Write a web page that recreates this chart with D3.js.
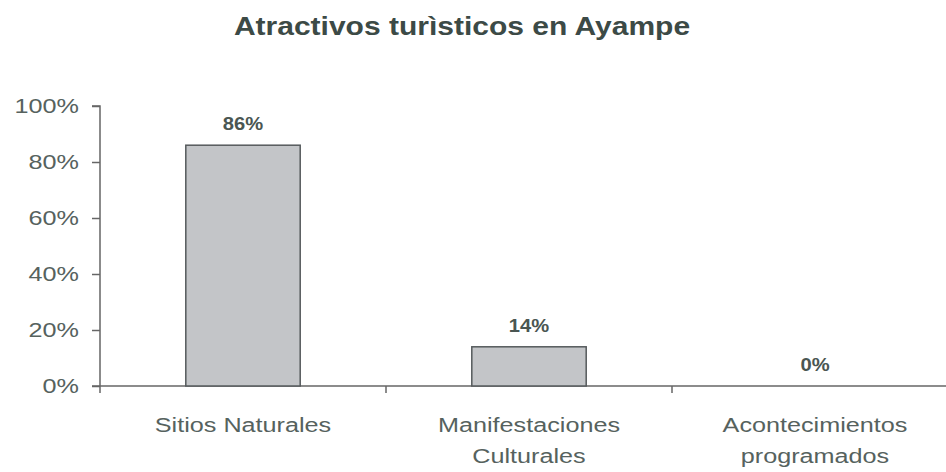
<!DOCTYPE html>
<html>
<head>
<meta charset="utf-8">
<script src="https://cdn.jsdelivr.net/npm/d3@7"></script>
<style>
    body { margin: 0; background: #fff; }
    svg text { font-family: "Liberation Sans", Arial, sans-serif; }
</style>
</head>
<body>
<svg id="chart" width="946" height="472"></svg>
<script>
// data
const categories = [['Sitios Naturales'], ['Manifestaciones', 'Culturales'], ['Acontecimientos', 'programados']];
const values = [0.86, 0.14, 0];
const valueLabels = ['86%', '14%', '0%'];
const yTicks = [0, 0.2, 0.4, 0.6, 0.8, 1];

const svg = d3.select('#chart');
const margin = { top: 106, left: 100 };
const plotW = 858;
const plotH = 280;
const textColor = '#56625e';
const stretch = 1.2; // the source text is a bit wide

const x = d3.scaleBand().domain(d3.range(values.length)).range([0, plotW]).paddingInner(0.6).paddingOuter(0.3);
const y = d3.scaleLinear().domain([0, 1]).range([plotH, 0]);

svg.append('text')
    .attr('transform', `translate(462,35) scale(${stretch},1)`)
    .attr('text-anchor', 'middle')
    .attr('font-size', 25).attr('font-weight', 'bold')
    .attr('fill', '#3c4a46')
    .text('Atractivos turìsticos en Ayampe');

const g = svg.append('g').attr('transform', `translate(${margin.left},${margin.top})`);

// y axis
const yAxis = g.append('g').call(d3.axisLeft(y).tickValues(yTicks).tickFormat(d3.format('.0%')).tickSize(8));
yAxis.select('.domain').attr('stroke', '#666').attr('stroke-width', 1.5).attr('d', `M-8,0H0V${plotH}`);
yAxis.selectAll('.tick line').attr('stroke', '#666').attr('stroke-width', 1.5);
yAxis.selectAll('.tick text')
    .attr('x', null)
    .attr('transform', `translate(-21,0) scale(${stretch},1)`)
    .attr('font-size', 21).attr('fill', textColor)
    .attr('font-family', '"Liberation Sans", Arial, sans-serif');

// x axis: category boundaries
const step = x.step();
const bounds = d3.range(values.length).map(i => i * step);
const xAxis = g.append('g').attr('transform', `translate(0,${plotH})`);
xAxis.append('line').attr('x1', -8).attr('x2', plotW).attr('stroke', '#666').attr('stroke-width', 1.5);
xAxis.selectAll('line.b').data(bounds).join('line')
    .attr('class', 'b')
    .attr('x1', d => d).attr('x2', d => d)
    .attr('y1', 0).attr('y2', 7)
    .attr('stroke', '#666').attr('stroke-width', 1.5);

const labels = xAxis.selectAll('text.cat').data(categories).join('text')
    .attr('class', 'cat')
    .attr('text-anchor', 'middle')
    .attr('font-size', 21)
    .attr('fill', textColor)
    .attr('transform', (d, i) => `translate(${x(i) + x.bandwidth() / 2},46) scale(${stretch},1)`);
labels.selectAll('tspan').data(d => d).join('tspan')
    .attr('x', 0)
    .attr('dy', (d, i) => (i === 0 ? 0 : 31))
    .text(d => d);

// bars
g.selectAll('rect.bar').data(values).join('rect')
    .attr('class', 'bar')
    .attr('x', (d, i) => x(i))
    .attr('y', d => y(d))
    .attr('width', x.bandwidth())
    .attr('height', d => plotH - y(d))
    .attr('fill', '#c3c5c8')
    .attr('stroke', '#555a5c')
    .attr('stroke-width', 1.5);

// value labels
g.selectAll('text.val').data(values).join('text')
    .attr('class', 'val')
    .attr('transform', (d, i) => `translate(${x(i) + x.bandwidth() / 2},${y(d) - 15}) scale(1.12,1)`)
    .attr('text-anchor', 'middle')
    .attr('font-size', 18).attr('font-weight', 'bold')
    .attr('fill', '#4a5652')
    .text((d, i) => valueLabels[i]);
</script>
</body>
</html>
